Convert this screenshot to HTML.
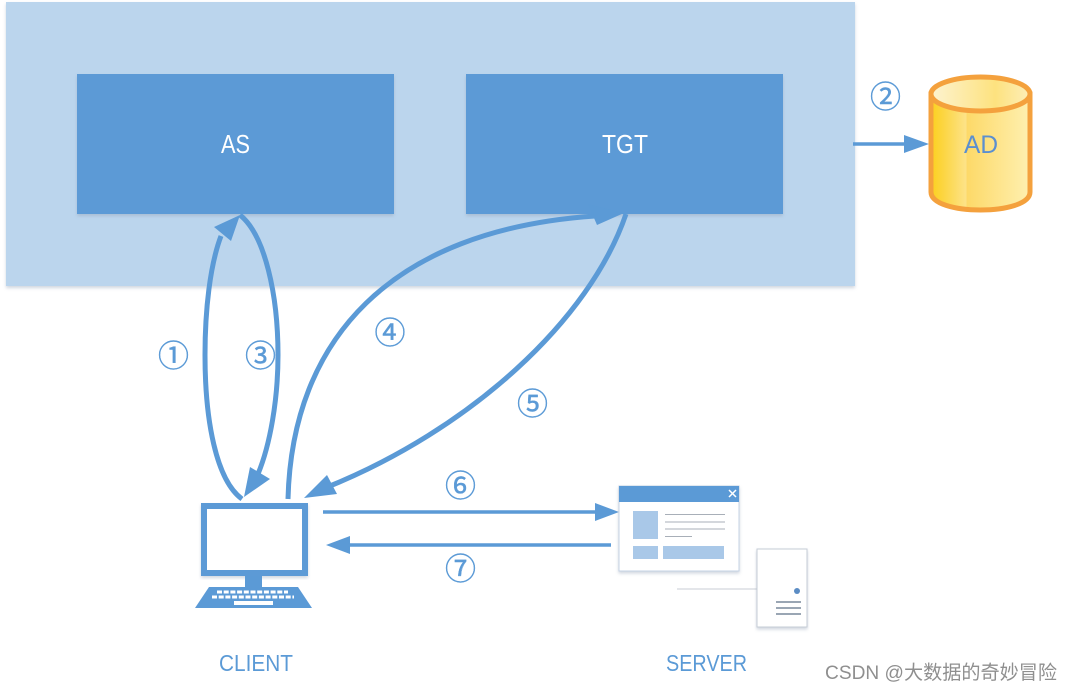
<!DOCTYPE html>
<html><head><meta charset="utf-8"><style>
html,body{margin:0;padding:0;background:#fff;width:1072px;height:692px;overflow:hidden}
svg{display:block}
text{font-family:"Liberation Sans","Noto Sans CJK SC",sans-serif}
</style></head><body>
<svg width="1072" height="692" viewBox="0 0 1072 692" xmlns="http://www.w3.org/2000/svg">
<defs>
<linearGradient id="body" x1="0" x2="1" y1="0" y2="0">
<stop offset="0" stop-color="#fbd11f"/><stop offset=".12" stop-color="#fcd540"/><stop offset=".36" stop-color="#fde38a"/>
<stop offset=".36" stop-color="#fdd968"/><stop offset="1" stop-color="#fef0b0"/></linearGradient>
<linearGradient id="top" x1="0" x2="1" y1="0" y2="0">
<stop offset="0" stop-color="#fdf3d0"/><stop offset=".65" stop-color="#fde27f"/><stop offset="1" stop-color="#fdeeb8"/></linearGradient>
<filter id="sh" x="-5%" y="-5%" width="110%" height="115%"><feDropShadow dx="0" dy="2" stdDeviation="1.500" flood-color="#8a9ab0" flood-opacity=".4"/></filter>
</defs>
<rect x="6" y="2" width="849" height="284" fill="#bbd5ed" filter="url(#sh)"/>
<rect x="77" y="74" width="317" height="140" fill="#5b9ad6" filter="url(#sh)"/>
<rect x="466" y="74" width="317" height="140" fill="#5b9ad6" filter="url(#sh)"/>
<text x="221" y="153" font-size="26" fill="#fff" textLength="29" lengthAdjust="spacingAndGlyphs">AS</text>
<text x="602" y="153" font-size="26" fill="#fff" textLength="46" lengthAdjust="spacingAndGlyphs">TGT</text>

<g fill="none" stroke="#5b9ad6" stroke-width="5">
<path d="M242 499C216 480 205 420 205 355C205 310 210 265 221 236"/>
<path d="M240 215C265 235 278 295 278 355C278 400 270 445 258 474"/>
<path d="M288 499C292 340 390 230 595 216"/>
<path d="M626 214C590 320 470 430 325 488"/>
</g>
<g fill="#5b9ad6">
<polygon points="240,215 214,227 231,241"/>
<polygon points="244,497 270,479 250,467"/>
<polygon points="624,213 588,204 597,225"/>
<polygon points="304,498 337,494 327,475"/>
<polygon points="929,144 904,135 904,153"/>
<polygon points="619,512 595,503 595,521"/>
<polygon points="326,545 350,536 350,554"/>
</g>
<g stroke="#5b9ad6" stroke-width="3.500" fill="none">
<path d="M853 144H906"/><path d="M323 512H597"/><path d="M348 545H611"/>
</g>

<!-- AD cylinder -->
<path d="M931 94V192C931 216 1030 216 1030 192V94Z" fill="url(#body)" stroke="#f4a13d" stroke-width="5"/>
<ellipse cx="980.500" cy="94" rx="49.500" ry="17" fill="url(#top)" stroke="#f4a13d" stroke-width="5"/>
<text x="964" y="153" font-size="25" fill="#5b8fd0" textLength="34" lengthAdjust="spacingAndGlyphs">AD</text>

<!-- circled numbers -->
<g font-size="31" fill="#5b9ad6" stroke="#5b9ad6" stroke-width=".4" text-anchor="middle" style="font-family:'DejaVu Sans','Noto Sans CJK SC',sans-serif">
<text x="173.500" y="367">①</text><text x="885.500" y="108">②</text><text x="260.500" y="367">③</text>
<text x="390" y="344">④</text><text x="532.500" y="415">⑤</text><text x="460.500" y="497">⑥</text><text x="460.500" y="580">⑦</text>
</g>

<!-- client -->
<rect x="204" y="506" width="101" height="67" fill="#fff" stroke="#5b9ad6" stroke-width="6" filter="url(#sh)"/>
<rect x="245" y="576" width="17" height="11" fill="#5b9ad6"/>
<polygon points="209,587 298,587 312,608 195,608" fill="#5b9ad6"/>
<g stroke="#fff" stroke-width="3" stroke-dasharray="5 1.700">
<path d="M217 592H288"/><path d="M212 597H294"/>
</g>
<rect x="234" y="601" width="39" height="4" fill="#fff"/>

<!-- server -->
<rect x="619" y="486" width="120" height="85" fill="#fff" stroke="#c5d3e4" filter="url(#sh)"/>
<rect x="619" y="486" width="120" height="16" fill="#5b9ad6"/>
<path d="M729 490l7 7M736 490l-7 7" stroke="#fff" stroke-width="1.500"/>
<g fill="#a9c8e8"><rect x="633" y="511" width="25" height="28"/><rect x="633" y="546" width="25" height="13"/><rect x="663" y="546" width="61" height="13"/></g>
<g stroke="#a8afb8" stroke-width="1"><path d="M665 514.500H725M665 522H725M665 529H725M665 536.500H692"/></g>
<path d="M677 589H757" stroke="#c8ccd4"/>
<rect x="757" y="549" width="50" height="78" fill="#fff" stroke="#c5ccd6" filter="url(#sh)"/>
<circle cx="797" cy="591" r="3" fill="#5b8cc4"/>
<g stroke="#9aa6b4" stroke-width="2"><path d="M776 602H801M776 608H801M776 614H801"/></g>

<text x="219" y="671" font-size="23" fill="#5b9ad6" textLength="74" lengthAdjust="spacingAndGlyphs">CLIENT</text>
<text x="666" y="671" font-size="23" fill="#5b9ad6" textLength="81" lengthAdjust="spacingAndGlyphs">SERVER</text>
<text x="825" y="679" font-size="19.500" fill="#8f8f8f" textLength="232" lengthAdjust="spacingAndGlyphs">CSDN @大数据的奇妙冒险</text>
</svg>
</body></html>
